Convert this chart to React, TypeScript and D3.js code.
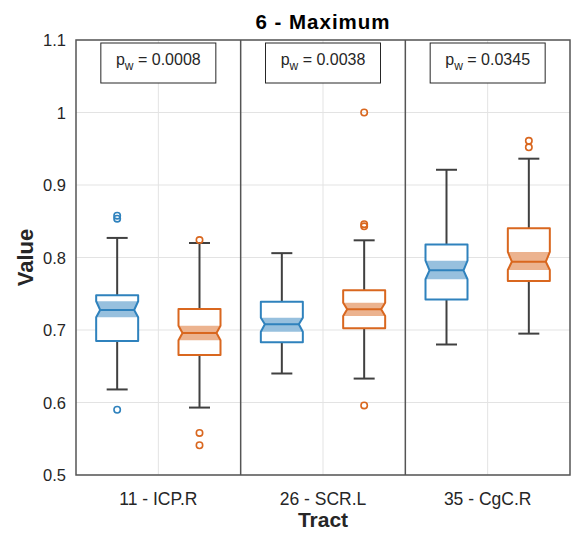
import React from "react";
import * as d3 from "d3";

// tract names, p-values and box statistics
const tracts = ["11 - ICP.R", "26 - SCR.L", "35 - CgC.R"];
const pValues = ["0.0008", "0.0038", "0.0345"];

// [lowerWhisker, q1, notchLow, median, notchHigh, q3, upperWhisker]
const blueStats = [
  [0.618, 0.685, 0.7175, 0.7276, 0.7396, 0.748, 0.827],
  [0.64, 0.683, 0.6977, 0.7078, 0.717, 0.739, 0.806],
  [0.68, 0.742, 0.77, 0.7823, 0.7956, 0.818, 0.921],
];
const orangeStats = [
  [0.593, 0.6655, 0.6858, 0.6959, 0.706, 0.729, 0.82],
  [0.633, 0.7023, 0.7193, 0.7285, 0.7377, 0.7548, 0.8237],
  [0.695, 0.7676, 0.7828, 0.7942, 0.8076, 0.8403, 0.9363],
];
const blueOutliers = [[0.59, 0.8535, 0.8577], [], []];
const orangeOutliers = [[0.541, 0.558, 0.824], [0.596, 0.843, 0.846, 1.0], [0.952, 0.961]];

const yTicks = [0.5, 0.6, 0.7, 0.8, 0.9, 1, 1.1];

const W = 573;
const H = 534;
const margin = { top: 40, right: 3, bottom: 59, left: 76 };
const FONT = "'Liberation Sans', Arial, Helvetica, sans-serif";
const BLUE = "#2f82bd";
const ORANGE = "#d9671f";
const WHISKER = "#404040";

const BoxPlot = ({ cx, stats, outliers, color, y }) => {
  const [lw, q1, nlo, med, nhi, q3, uw] = stats;
  const hw = 21; // half box width
  const d = 4; // notch depth
  const outline = [
    [cx - hw, y(q3)], [cx + hw, y(q3)], [cx + hw, y(nhi)], [cx + hw - d, y(med)],
    [cx + hw, y(nlo)], [cx + hw, y(q1)], [cx - hw, y(q1)], [cx - hw, y(nlo)],
    [cx - hw + d, y(med)], [cx - hw, y(nhi)],
  ];
  const shade = [
    [cx - hw, y(nhi)], [cx + hw, y(nhi)], [cx + hw - d, y(med)],
    [cx + hw, y(nlo)], [cx - hw, y(nlo)], [cx - hw + d, y(med)],
  ];
  const poly = (pts) => pts.map((p) => p.join(",")).join(" ");
  return (
    <g>
      <line x1={cx} x2={cx} y1={y(q3)} y2={y(uw)} stroke={WHISKER} strokeWidth={2} />
      <line x1={cx} x2={cx} y1={y(q1)} y2={y(lw)} stroke={WHISKER} strokeWidth={2} />
      <line x1={cx - 10.5} x2={cx + 10.5} y1={y(uw)} y2={y(uw)} stroke={WHISKER} strokeWidth={2} />
      <line x1={cx - 10.5} x2={cx + 10.5} y1={y(lw)} y2={y(lw)} stroke={WHISKER} strokeWidth={2} />
      <polygon points={poly(outline)} fill="#fff" />
      <polygon points={poly(shade)} fill={color} fillOpacity={0.5} />
      <polygon points={poly(outline)} fill="none" stroke={color} strokeWidth={2} strokeLinejoin="round" />
      <line x1={cx - hw + d} x2={cx + hw - d} y1={y(med)} y2={y(med)} stroke={color} strokeWidth={2} />
      {outliers.map((v, i) => (
        <circle key={i} cx={cx} cy={y(v)} r={3.2} fill="none" stroke={color} strokeWidth={1.6} />
      ))}
    </g>
  );
};

export default function App() {
  const x0 = margin.left;
  const x1 = W - margin.right;
  const yTop = margin.top;
  const yBot = H - margin.bottom;

  const x = d3.scaleBand().domain(tracts).range([x0, x1]).padding(0);
  const y = d3.scaleLinear().domain([0.5, 1.1]).range([yBot, yTop]);
  const fmt = d3.format(".1~f");
  const offset = x.bandwidth() / 4;
  const midX = (x0 + x1) / 2;

  return (
    <svg width={W} height={H} style={{ position: "absolute", left: 0, top: 0, background: "#fff" }} fontFamily={FONT}>
      {/* grid */}
      {yTicks.map((t) => (
        <line key={t} x1={x0} x2={x1} y1={y(t)} y2={y(t)} stroke="#e3e3e3" strokeWidth={1} />
      ))}
      {tracts.map((t) => (
        <line key={t} x1={x(t) + x.bandwidth() / 2} x2={x(t) + x.bandwidth() / 2} y1={yTop} y2={yBot} stroke="#e3e3e3" strokeWidth={1} />
      ))}
      {/* dividers */}
      {tracts.slice(1).map((t) => (
        <line key={t} x1={x(t)} x2={x(t)} y1={yTop} y2={yBot} stroke="#555" strokeWidth={1.5} />
      ))}
      {/* boxes */}
      {tracts.map((t, i) => (
        <g key={t}>
          <BoxPlot cx={x(t) + x.bandwidth() / 2 - offset} stats={blueStats[i]} outliers={blueOutliers[i]} color={BLUE} y={y} />
          <BoxPlot cx={x(t) + x.bandwidth() / 2 + offset} stats={orangeStats[i]} outliers={orangeOutliers[i]} color={ORANGE} y={y} />
        </g>
      ))}
      {/* p-value boxes */}
      {tracts.map((t, i) => {
        const c = x(t) + x.bandwidth() / 2;
        return (
          <g key={t}>
            <rect x={c - 57.5} y={43} width={115} height={40} fill="#fff" stroke="#262626" strokeWidth={1} />
            <text x={c} y={64.5} textAnchor="middle" fontSize={16} fill="#262626">
              p<tspan dy={5} fontSize={12}>w</tspan>
              <tspan dy={-5}> = {pValues[i]}</tspan>
            </text>
          </g>
        );
      })}
      {/* axes frame */}
      <rect x={x0} y={yTop} width={x1 - x0} height={yBot - yTop} fill="none" stroke="#555" strokeWidth={1.5} />
      {/* y tick labels */}
      {yTicks.map((t) => (
        <text key={t} x={66} y={y(t)} dy="0.38em" textAnchor="end" fontSize={16.5} fill="#262626">
          {fmt(t)}
        </text>
      ))}
      {/* x tick labels */}
      {tracts.map((t) => (
        <text key={t} x={x(t) + x.bandwidth() / 2} y={505} textAnchor="middle" fontSize={17.5} fill="#262626">
          {t}
        </text>
      ))}
      <text x={midX} y={527} textAnchor="middle" fontSize={21} fontWeight="bold" fill="#262626">Tract</text>
      <text transform={`translate(33, ${(yTop + yBot) / 2}) rotate(-90)`} textAnchor="middle" fontSize={22} fontWeight="bold" fill="#262626">Value</text>
      <text x={midX} y={29} textAnchor="middle" fontSize={20.5} fontWeight="bold" letterSpacing={1} fill="#000">6 - Maximum</text>
    </svg>
  );
}
